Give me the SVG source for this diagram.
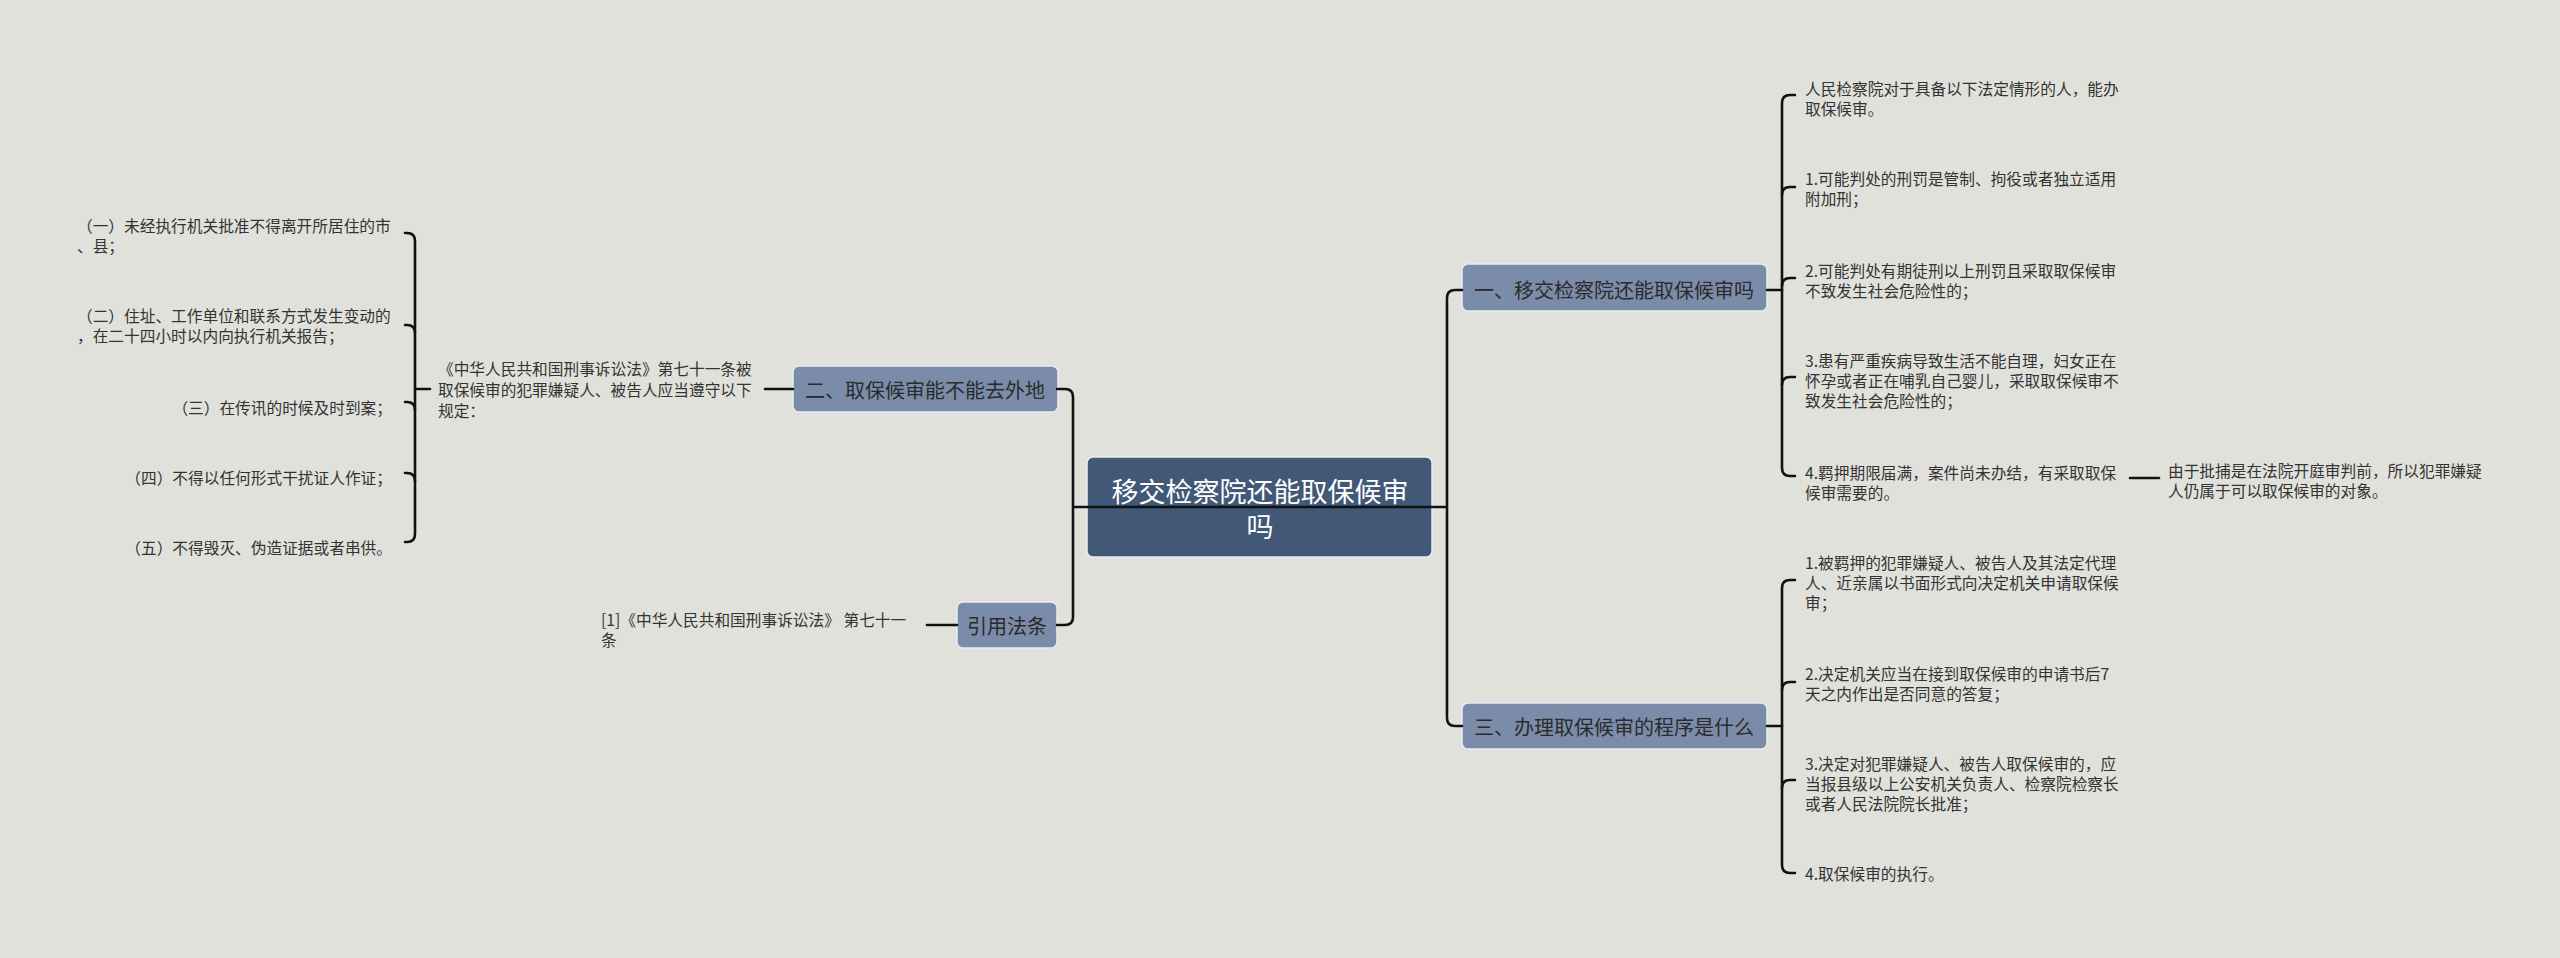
<svg xmlns="http://www.w3.org/2000/svg" width="2560" height="958" viewBox="0 0 2560 958">
<style>
text{font-family:"Noto Sans CJK SC","Noto Sans",sans-serif;dominant-baseline:central;}
.t{font-size:15.7px;fill:#333;}
.r{text-anchor:end;}
.n{font-size:20px;fill:#2b2b2b;text-anchor:middle;}
.c{font-size:27px;fill:#fff;text-anchor:middle;}
.box{fill:#7a8ca9;stroke:#e8ecf2;stroke-width:1.5;}
.cbox{fill:#415877;stroke:#e8ecf2;stroke-width:1.5;}
.ln{fill:none;stroke:#111;stroke-width:2.6;stroke-linecap:round;}
</style>
<rect width="2560" height="958" fill="#e1e1dc"/>
<g id="center">
<rect class="cbox" x="1087" y="457" width="345" height="100" rx="6"/>
<text class="c" x="1260" y="490">移交检察院还能取保候审</text>
<text class="c" x="1260" y="525">吗</text>
</g>
<g id="n1">
<rect class="box" x="1462" y="264" width="305" height="47" rx="6"/>
<text class="n" x="1614" y="289">一、移交检察院还能取保候审吗</text>
</g>
<g id="n3">
<rect class="box" x="1462" y="703" width="305" height="46" rx="6"/>
<text class="n" x="1614" y="726">三、办理取保候审的程序是什么</text>
</g>
<g id="n2">
<rect class="box" x="793" y="366" width="265" height="46" rx="6"/>
<text class="n" x="925" y="389">二、取保候审能不能去外地</text>
</g>
<g id="ref">
<rect class="box" x="957" y="602" width="100" height="46" rx="6"/>
<text class="n" x="1007" y="625">引用法条</text>
</g>
<g id="n1a"><text class="t" x="1805" y="88">人民检察院对于具备以下法定情形的人，能办</text><text class="t" x="1805" y="108">取保候审。</text></g>
<g id="n1b"><text class="t" x="1805" y="178">1.可能判处的刑罚是管制、拘役或者独立适用</text><text class="t" x="1805" y="198">附加刑；</text></g>
<g id="n1c"><text class="t" x="1805" y="270">2.可能判处有期徒刑以上刑罚且采取取保候审</text><text class="t" x="1805" y="290">不致发生社会危险性的；</text></g>
<g id="n1d"><text class="t" x="1805" y="360">3.患有严重疾病导致生活不能自理，妇女正在</text><text class="t" x="1805" y="380">怀孕或者正在哺乳自己婴儿，采取取保候审不</text><text class="t" x="1805" y="400">致发生社会危险性的；</text></g>
<g id="n1e"><text class="t" x="1805" y="472">4.羁押期限届满，案件尚未办结，有采取取保</text><text class="t" x="1805" y="492">候审需要的。</text></g>
<g id="n1e1"><text class="t" x="2168" y="470">由于批捕是在法院开庭审判前，所以犯罪嫌疑</text><text class="t" x="2168" y="490">人仍属于可以取保候审的对象。</text></g>
<g id="n3a"><text class="t" x="1805" y="562">1.被羁押的犯罪嫌疑人、被告人及其法定代理</text><text class="t" x="1805" y="582">人、近亲属以书面形式向决定机关申请取保候</text><text class="t" x="1805" y="602">审；</text></g>
<g id="n3b"><text class="t" x="1805" y="673">2.决定机关应当在接到取保候审的申请书后7</text><text class="t" x="1805" y="693">天之内作出是否同意的答复；</text></g>
<g id="n3c"><text class="t" x="1805" y="763">3.决定对犯罪嫌疑人、被告人取保候审的，应</text><text class="t" x="1805" y="783">当报县级以上公安机关负责人、检察院检察长</text><text class="t" x="1805" y="803">或者人民法院院长批准；</text></g>
<g id="n3d"><text class="t" x="1805" y="873">4.取保候审的执行。</text></g>
<g id="n2a"><text class="t" x="438" y="368">《中华人民共和国刑事诉讼法》第七十一条被</text><text class="t" x="438" y="389">取保候审的犯罪嫌疑人、被告人应当遵守以下</text><text class="t" x="438" y="410">规定：</text></g>
<g id="n2a1"><text class="t" x="77" y="225">（一）未经执行机关批准不得离开所居住的市</text><text class="t" x="77" y="245">、县；</text></g>
<g id="n2a2"><text class="t" x="77" y="315">（二）住址、工作单位和联系方式发生变动的</text><text class="t" x="77" y="335">，在二十四小时以内向执行机关报告；</text></g>
<g id="n2a3"><text class="t r" x="392" y="407">（三）在传讯的时候及时到案；</text></g>
<g id="n2a4"><text class="t r" x="392" y="477">（四）不得以任何形式干扰证人作证；</text></g>
<g id="n2a5"><text class="t r" x="392" y="547">（五）不得毁灭、伪造证据或者串供。</text></g>
<g id="refa"><text class="t" x="601" y="619">[1]《中华人民共和国刑事诉讼法》 第七十一</text><text class="t" x="601" y="639">条</text></g>
<g id="connectors">
<path class="ln" d="M1073,507 H1447"/>
<path class="ln" d="M1462,290 H1455 Q1447,290 1447,298 V718 Q1447,726 1455,726 H1462"/>
<path class="ln" d="M1057,389 H1065 Q1073,389 1073,397 V617 Q1073,625 1065,625 H1057"/>
<path class="ln" d="M1767,290 H1782"/>
<path class="ln" d="M1795,95 H1790 Q1782,95 1782,103 V468 Q1782,476 1790,476 H1795"/>
<path class="ln" d="M1782,195 Q1782,187 1790,187 H1795"/>
<path class="ln" d="M1782,286 Q1782,278 1790,278 H1795"/>
<path class="ln" d="M1782,385 Q1782,377 1790,377 H1795"/>
<path class="ln" d="M2130,478 H2159"/>
<path class="ln" d="M1767,726 H1782"/>
<path class="ln" d="M1795,580 H1790 Q1782,580 1782,588 V865 Q1782,873 1790,873 H1795"/>
<path class="ln" d="M1782,690 Q1782,682 1790,682 H1795"/>
<path class="ln" d="M1782,788 Q1782,780 1790,780 H1795"/>
<path class="ln" d="M765,389 H793"/>
<path class="ln" d="M405,233 H407 Q415,233 415,241 V534 Q415,542 407,542 H405"/>
<path class="ln" d="M415,333 Q415,325 407,325 H405"/>
<path class="ln" d="M415,410 Q415,402 407,402 H405"/>
<path class="ln" d="M415,481 Q415,473 407,473 H405"/>
<path class="ln" d="M415,389 H430"/>
<path class="ln" d="M927,625 H957"/>
</g>
</svg>
